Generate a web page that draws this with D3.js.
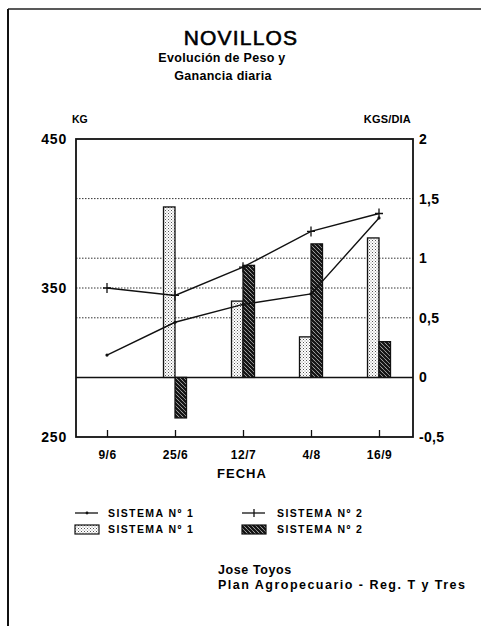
<!DOCTYPE html>
<html><head><meta charset="utf-8">
<script src="https://cdn.jsdelivr.net/npm/d3@7"></script>
<style>body{margin:0;background:#fff}svg{display:block;font-family:"Liberation Sans",Arial,sans-serif;font-weight:bold}</style>
</head><body>
<script>
const fechas = ["9/6","25/6","12/7","4/8","16/9"];
const pesoS1 = [305, 327, 339, 346, 397];
const pesoS2 = [350, 345, 364, 388, 400];
const ganS1 = [null, 1.43, 0.64, 0.34, 1.17];
const ganS2 = [null, -0.34, 0.94, 1.12, 0.30];
const kgTicks = [250, 350, 450];
const diaTicks = [-0.5, 0, 0.5, 1, 1.5, 2];
const diaGrid = [0.5, 1, 1.5];
const kgGrid = [350];
const legendItems = ["SISTEMA Nº 1", "SISTEMA Nº 2"];

const W = 481, H = 626;
const P = {l: 76, r: 413, t: 139, b: 437};
const svg = d3.select("body").append("svg").attr("width", W).attr("height", H);

const defs = svg.append("defs");
const dots = defs.append("pattern").attr("id","dots").attr("patternUnits","userSpaceOnUse").attr("width",3).attr("height",3);
dots.append("rect").attr("width",3).attr("height",3).attr("fill","#fff");
dots.append("rect").attr("x",0).attr("y",0).attr("width",1).attr("height",1).attr("fill","#555");
dots.append("rect").attr("x",1.5).attr("y",1.5).attr("width",1).attr("height",1).attr("fill","#888");
const hatch = defs.append("pattern").attr("id","hatch").attr("patternUnits","userSpaceOnUse").attr("width",4).attr("height",4);
hatch.append("rect").attr("width",4).attr("height",4).attr("fill","#fff");
hatch.append("path").attr("d","M-1,-1 L5,5 M-1,3 L1,5 M3,-1 L5,1").attr("stroke","#111").attr("stroke-width",2.3);

// page border
svg.append("line").attr("x1",8).attr("x2",W).attr("y1",9).attr("y2",9).attr("stroke","#222").attr("stroke-width",1.5);
svg.append("line").attr("x1",8).attr("x2",8).attr("y1",9).attr("y2",H).attr("stroke","#111").attr("stroke-width",2);

// titles
svg.append("text").attr("x",241).attr("y",45).attr("text-anchor","middle").attr("font-size",21).attr("letter-spacing",1.2).attr("font-weight","normal").attr("stroke","#000").attr("stroke-width",0.6).text("NOVILLOS");
svg.append("text").attr("x",222).attr("y",62).attr("text-anchor","middle").attr("font-size",12.5).attr("letter-spacing",0.3).text("Evolución de Peso y");
svg.append("text").attr("x",223).attr("y",80).attr("text-anchor","middle").attr("font-size",12.5).attr("letter-spacing",0.3).text("Ganancia diaria");

const x = d3.scalePoint().domain(fechas).range([P.l + 31, P.r - 34]);
const yL = d3.scaleLinear().domain([250, 450]).range([P.b, P.t]);
const yR = d3.scaleLinear().domain([-0.5, 2]).range([P.b, P.t]);
const fmt = d => String(d).replace(".", ",");

// grid
const g = svg.append("g");
g.selectAll(".gr").data(diaGrid).join("line").attr("x1",P.l).attr("x2",P.r)
  .attr("y1",d=>yR(d)).attr("y2",d=>yR(d)).attr("stroke","#333").attr("stroke-width",1).attr("stroke-dasharray","1.5,1.5");
g.selectAll(".gk").data(kgGrid).join("line").attr("x1",P.l).attr("x2",P.r)
  .attr("y1",d=>yL(d)).attr("y2",d=>yL(d)).attr("stroke","#333").attr("stroke-width",1).attr("stroke-dasharray","1.5,1.5");
g.append("line").attr("x1",P.l).attr("x2",P.r).attr("y1",yR(0)).attr("y2",yR(0)).attr("stroke","#111").attr("stroke-width",1.5);

// bars
const bw = 11.5;
const bars = svg.append("g");
fechas.forEach((f,i)=>{
  if (ganS1[i] != null) {
    const v = ganS1[i];
    bars.append("rect").attr("x",x(f)-bw).attr("width",bw)
      .attr("y",yR(Math.max(0,v))).attr("height",Math.abs(yR(v)-yR(0)))
      .attr("fill","url(#dots)").attr("stroke","#111").attr("stroke-width",1.3);
  }
  if (ganS2[i] != null) {
    const v = ganS2[i];
    bars.append("rect").attr("x",x(f)).attr("width",bw)
      .attr("y",yR(Math.max(0,v))).attr("height",Math.abs(yR(v)-yR(0)))
      .attr("fill","url(#hatch)").attr("stroke","#111").attr("stroke-width",1.3);
  }
});

// lines
const line = d3.line().x((d,i)=>x(fechas[i])).y(d=>yL(d));
svg.append("path").attr("d",line(pesoS1)).attr("fill","none").attr("stroke","#111").attr("stroke-width",1.4);
svg.append("path").attr("d",line(pesoS2)).attr("fill","none").attr("stroke","#111").attr("stroke-width",1.4);
svg.selectAll(".m1").data(pesoS1).join("circle").attr("cx",(d,i)=>x(fechas[i])).attr("cy",d=>yL(d)).attr("r",1.6).attr("fill","#111");
svg.selectAll(".m2").data(pesoS2).join("path")
  .attr("d",(d,i)=>`M${x(fechas[i])},${yL(d)-5}V${yL(d)+5}M${x(fechas[i])-4},${yL(d)}H${x(fechas[i])+4}`)
  .attr("stroke","#111").attr("stroke-width",1.3);

// frame
svg.append("rect").attr("x",P.l).attr("y",P.t).attr("width",P.r-P.l).attr("height",P.b-P.t)
  .attr("fill","none").attr("stroke","#111").attr("stroke-width",1.8);

// axes
const ax = svg.append("g").attr("transform",`translate(0,${P.b})`)
  .call(d3.axisBottom(x).tickSizeInner(-7).tickSizeOuter(0).tickPadding(13));
ax.select(".domain").remove();
ax.selectAll("line").attr("stroke","#111").attr("stroke-width",1.3);
ax.selectAll("text").attr("font-size",12).attr("font-weight","bold").attr("font-family","Liberation Sans, Arial").attr("letter-spacing",0.5).attr("fill","#000");

const al = svg.append("g").attr("transform",`translate(${P.l},0)`)
  .call(d3.axisLeft(yL).tickValues(kgTicks).tickSize(0).tickPadding(9));
al.select(".domain").remove();
al.selectAll("text").attr("font-size",14).attr("font-weight","bold").attr("font-family","Liberation Sans, Arial").attr("letter-spacing",0.8).attr("fill","#000");

const ar = svg.append("g").attr("transform",`translate(${P.r},0)`)
  .call(d3.axisRight(yR).tickValues(diaTicks).tickSize(0).tickPadding(6).tickFormat(fmt));
ar.select(".domain").remove();
ar.selectAll("text").attr("font-size",14).attr("font-weight","bold").attr("font-family","Liberation Sans, Arial").attr("letter-spacing",0.3).attr("fill","#000");

svg.append("text").attr("x",72).attr("y",123).attr("font-size",10.5).text("KG");
svg.append("text").attr("x",411).attr("y",123).attr("text-anchor","end").attr("font-size",11).attr("letter-spacing",0.2).text("KGS/DIA");
svg.append("text").attr("x",242).attr("y",478).attr("text-anchor","middle").attr("font-size",13).attr("letter-spacing",1).text("FECHA");

// legend
const lg = svg.append("g");
const cols = [75, 242];
lg.append("line").attr("x1",cols[0]).attr("x2",cols[0]+23).attr("y1",513).attr("y2",513).attr("stroke","#111").attr("stroke-width",1.3);
lg.append("circle").attr("cx",cols[0]+12).attr("cy",513).attr("r",1.4).attr("fill","#111");
lg.append("line").attr("x1",cols[1]).attr("x2",cols[1]+23).attr("y1",513).attr("y2",513).attr("stroke","#111").attr("stroke-width",1.3);
lg.append("line").attr("x1",cols[1]+12).attr("x2",cols[1]+12).attr("y1",509).attr("y2",517).attr("stroke","#111").attr("stroke-width",1.3);
lg.append("rect").attr("x",cols[0]).attr("y",525).attr("width",24).attr("height",9).attr("fill","url(#dots)").attr("stroke","#111").attr("stroke-width",1.2);
lg.append("rect").attr("x",cols[1]).attr("y",525).attr("width",24).attr("height",9).attr("fill","url(#hatch)").attr("stroke","#111").attr("stroke-width",1.2);
[0,1].forEach(c=>{
  lg.append("text").attr("x",cols[c]+33+ (c?2:0)).attr("y",517).attr("font-size",10.5).attr("letter-spacing",1.4).text(legendItems[c]);
  lg.append("text").attr("x",cols[c]+33+ (c?2:0)).attr("y",533).attr("font-size",10.5).attr("letter-spacing",1.4).text(legendItems[c]);
});

svg.append("text").attr("x",218).attr("y",574).attr("font-size",12.5).attr("letter-spacing",0.6).text("Jose Toyos");
svg.append("text").attr("x",218).attr("y",589).attr("font-size",12.5).attr("textLength",247).attr("lengthAdjust","spacing").text("Plan Agropecuario - Reg. T y Tres");
</script>
</body></html>
